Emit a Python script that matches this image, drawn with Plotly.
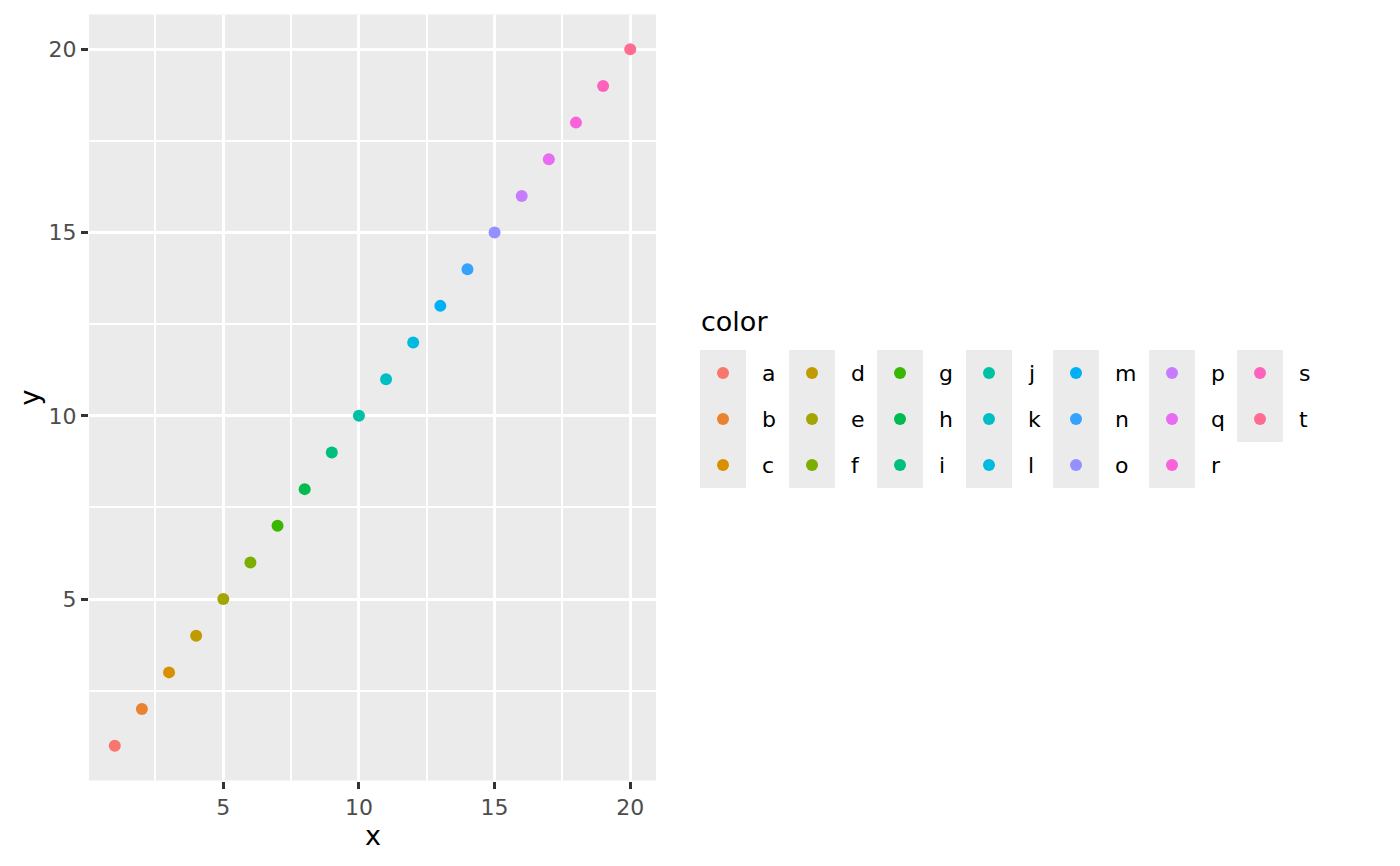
import plotly.graph_objects as go

# ---- data ----
x_vals = list(range(1, 21))
y_vals = list(range(1, 21))
labels = list("abcdefghijklmnopqrst")
colors = ["#F8766D", "#EA8331", "#D89000", "#C09B00", "#A3A500", "#7CAE00",
          "#39B600", "#00BB4E", "#00BF7D", "#00C1A3", "#00BFC4", "#00BAE0",
          "#00B0F6", "#35A2FF", "#9590FF", "#C77CFF", "#E76BF3", "#FA62DB",
          "#FF62BC", "#FF6C91"]
x_ticks = [5, 10, 15, 20]
y_ticks = [5, 10, 15, 20]
legend_title = "color"
x_title = "x"
y_title = "y"

# ---- layout constants (page pixels) ----
REF_W, REF_H = 1400, 866
OFF = 8  # page body margin
W, H = REF_W - OFF, REF_H - OFF
PANEL_L, PANEL_R, PANEL_T, PANEL_B = 89, 656, 14.5, 780.5
FONT = "DejaVu Sans"
col_lefts = [700, 789, 877, 966, 1053, 1149, 1237]
KEY_W, KEY_H, ROWS = 46, 46, 3
KEY_TOP = 350
LABEL_DX = 60


def fx(p):
    return (p - OFF) / W


def fy(p):
    return 1 - (p - OFF) / H


fig = go.Figure()

# main points
for xv, yv, lab, col in zip(x_vals, y_vals, labels, colors):
    fig.add_trace(go.Scatter(x=[xv], y=[yv], mode="markers", name=lab,
                             marker=dict(color=col, size=12, line=dict(width=0)),
                             xaxis="x", yaxis="y", showlegend=False))

# panel background
fig.add_shape(type="rect", xref="x domain", yref="y domain", x0=0, x1=1, y0=0, y1=1,
              fillcolor="#EBEBEB", line=dict(width=0), layer="below")

# legend drawn on a pixel-coordinate overlay axis
leg_x, leg_y = [], []
for i, (lab, col) in enumerate(zip(labels, colors)):
    c, r = divmod(i, ROWS)
    cx = col_lefts[c] + KEY_W / 2
    cy = KEY_TOP + r * KEY_H + KEY_H / 2
    leg_x.append(cx)
    leg_y.append(cy)
    fig.add_annotation(x=col_lefts[c] + LABEL_DX, y=cy, xref="x2", yref="y2", text=lab,
                       showarrow=False, xanchor="left", yanchor="middle",
                       font=dict(family=FONT, size=22, color="black"))
n_cols = (len(labels) + ROWS - 1) // ROWS
for c in range(n_cols):
    n_in = min(ROWS, len(labels) - c * ROWS)
    fig.add_shape(type="rect", xref="x2", yref="y2", x0=col_lefts[c], x1=col_lefts[c] + KEY_W,
                  y0=KEY_TOP, y1=KEY_TOP + n_in * KEY_H, fillcolor="#EBEBEB",
                  line=dict(width=0), layer="below")
fig.add_trace(go.Scatter(x=leg_x, y=leg_y, mode="markers", xaxis="x2", yaxis="y2",
                         marker=dict(color=colors, size=12, line=dict(width=0)),
                         showlegend=False, hoverinfo="skip"))

fig.add_annotation(x=699, y=321, xref="x2", yref="y2", text=legend_title, showarrow=False,
                   xanchor="left", yanchor="middle",
                   font=dict(family=FONT, size=27, color="black"))
fig.add_annotation(x=(PANEL_L + PANEL_R) / 2, y=835, xref="x2", yref="y2", text=x_title,
                   showarrow=False, xanchor="center", yanchor="middle",
                   font=dict(family=FONT, size=27, color="black"))
fig.add_annotation(x=29, y=(PANEL_T + PANEL_B) / 2, xref="x2", yref="y2", text=y_title,
                   showarrow=False, xanchor="center", yanchor="middle", textangle=-90,
                   font=dict(family=FONT, size=27, color="black"))

axis_common = dict(
    showline=False, zeroline=False, ticks="outside", ticklen=7, tickwidth=2.7,
    tickcolor="#333333", gridcolor="white", gridwidth=2.7,
    tickfont=dict(family=FONT, size=22, color="#4D4D4D"),
    minor=dict(dtick=2.5, showgrid=True, gridcolor="white", gridwidth=1.5, ticks=""),
    fixedrange=True,
)

fig.update_layout(
    width=W, height=H, autosize=False,
    margin=dict(l=0, r=0, t=0, b=0),
    paper_bgcolor="white", plot_bgcolor="rgba(0,0,0,0)",
    showlegend=False,
    xaxis=dict(domain=[fx(PANEL_L), fx(PANEL_R)], range=[0.05, 20.95],
               tickmode="array", tickvals=x_ticks, ticktext=[str(v) for v in x_ticks],
               anchor="y", **axis_common),
    yaxis=dict(domain=[fy(PANEL_B), fy(PANEL_T)], range=[0.05, 20.95],
               tickmode="array", tickvals=y_ticks, ticktext=[str(v) for v in y_ticks],
               anchor="x", **axis_common),
    xaxis2=dict(domain=[0, 1], range=[OFF, REF_W], visible=False, anchor="y2", fixedrange=True),
    yaxis2=dict(domain=[0, 1], range=[REF_H, OFF], visible=False, anchor="x2", fixedrange=True),
)

fig.write_html("out.html")
